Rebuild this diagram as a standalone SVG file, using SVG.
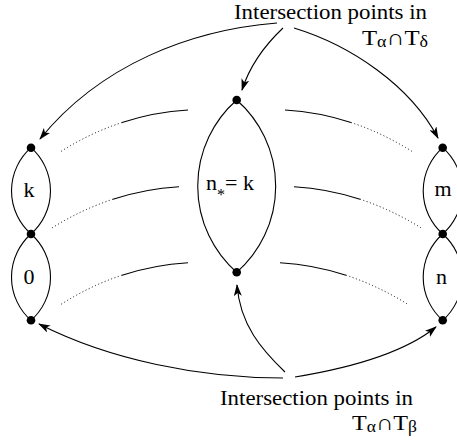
<svg xmlns="http://www.w3.org/2000/svg" width="457" height="440" viewBox="0 0 457 440">
<defs>
<style>
.ln{fill:none;stroke:#000;stroke-width:1.1}
.dt{fill:none;stroke:#000;stroke-width:1;stroke-dasharray:1 2.5}
.ar{fill:none;stroke:#000;stroke-width:1.1;marker-end:url(#ah)}
.dot{fill:#000}
.tx{font-family:"Liberation Serif","Times New Roman",serif;font-size:22px;fill:#000}
.sm{font-size:16px}
</style>
<marker id="ah" viewBox="0 0 12 8" refX="11" refY="4" markerWidth="12" markerHeight="8" markerUnits="userSpaceOnUse" orient="auto">
<path d="M0,0 L12,4 L0,8 L3,4 z" fill="#000"/>
</marker>
</defs>
<rect width="457" height="440" fill="#fff"/>

<g id="lens-left-top">
<path class="ln" d="M31,147.7 A57.5,57.5 0 0,0 31,234 M31,147.7 A57.5,57.5 0 0,1 31,234"/>
<text class="tx" font-family="Liberation Serif, serif" x="29" y="197" text-anchor="middle">k</text>
</g>
<g id="lens-left-bottom">
<path class="ln" d="M31,234 A57.5,57.5 0 0,0 31,320.3 M31,234 A57.5,57.5 0 0,1 31,320.3"/>
<text class="tx" font-family="Liberation Serif, serif" x="29" y="284" text-anchor="middle">0</text>
</g>
<g id="lens-center">
<path class="ln" d="M236.7,100 A114.7,114.7 0 0,0 236.7,272.3 M236.7,100 A114.7,114.7 0 0,1 236.7,272.3"/>
<text class="tx" font-family="Liberation Serif, serif" x="206" y="190">n<tspan class="sm" dy="10">*</tspan><tspan dy="-10">= k</tspan></text>
</g>
<g id="lens-right-top">
<path class="ln" d="M442.7,147.7 A57.5,57.5 0 0,0 442.7,234 M442.7,147.7 A57.5,57.5 0 0,1 442.7,234"/>
<text class="tx" font-family="Liberation Serif, serif" x="443" y="196" text-anchor="middle">m</text>
</g>
<g id="lens-right-bottom">
<path class="ln" d="M442.7,234 A57.5,57.5 0 0,0 442.7,320.3 M442.7,234 A57.5,57.5 0 0,1 442.7,320.3"/>
<text class="tx" font-family="Liberation Serif, serif" x="441.5" y="284" text-anchor="middle">n</text>
</g>

<g id="points">
<circle class="dot" cx="31" cy="147.7" r="4.3"/>
<circle class="dot" cx="31" cy="234" r="4.3"/>
<circle class="dot" cx="31" cy="320.3" r="4.3"/>
<circle class="dot" cx="236.7" cy="100" r="4.3"/>
<circle class="dot" cx="236.7" cy="272.3" r="4.3"/>
<circle class="dot" cx="442.7" cy="147.7" r="4.3"/>
<circle class="dot" cx="442.7" cy="234" r="4.3"/>
<circle class="dot" cx="442.7" cy="320.3" r="4.3"/>
</g>

<g id="curves">
<path class="ln" d="M188,110 Q154,112 122,122.5"/>
<path class="dt" d="M122,122.5 Q90,133 60,152"/>
<path class="ln" d="M179,186.7 Q145,188.7 113,199.2"/>
<path class="dt" d="M113,199.2 Q81,209.7 52,228"/>
<path class="ln" d="M188,262.7 Q154,264.7 122,275.2"/>
<path class="dt" d="M122,275.2 Q90,285.7 60,305"/>
<path class="ln" d="M285,110 Q319,112 351,122.5"/>
<path class="dt" d="M351,122.5 Q383,133 413,152"/>
<path class="ln" d="M294,186.7 Q328,188.7 360,199.2"/>
<path class="dt" d="M360,199.2 Q392,209.7 423,229"/>
<path class="ln" d="M280,262.7 Q314,264.7 346,275.2"/>
<path class="dt" d="M346,275.2 Q378,285.7 409,305"/>
</g>

<g id="connectors">
<path class="ar" d="M277,23 C190,30 100,65 40,139"/>
<path class="ar" d="M283,28 C265,45 250,65 242,90"/>
<path class="ar" d="M294,28 C350,45 410,85 438,138"/>
<path class="ar" d="M285,372 C262,350 240,325 237,285"/>
<path class="ar" d="M283,378 C200,378 110,360 39,324"/>
<path class="ar" d="M295,377 C350,368 405,352 436,327"/>
</g>

<g id="label-top">
<text class="tx" font-family="Liberation Serif, serif" x="234" y="19" textLength="193" lengthAdjust="spacingAndGlyphs">Intersection points in</text>
<text class="tx" font-family="Liberation Serif, serif" x="362" y="45" textLength="66" lengthAdjust="spacingAndGlyphs">T<tspan class="sm" dy="2">α</tspan><tspan dy="-2">∩T</tspan><tspan class="sm" dy="2">δ</tspan></text>
</g>
<g id="label-bottom">
<text class="tx" font-family="Liberation Serif, serif" x="220" y="405" textLength="193" lengthAdjust="spacingAndGlyphs">Intersection points in</text>
<text class="tx" font-family="Liberation Serif, serif" x="352" y="430" textLength="65" lengthAdjust="spacingAndGlyphs">T<tspan class="sm" dy="2">α</tspan><tspan dy="-2">∩T</tspan><tspan class="sm" dy="2">β</tspan></text>
</g>
</svg>
